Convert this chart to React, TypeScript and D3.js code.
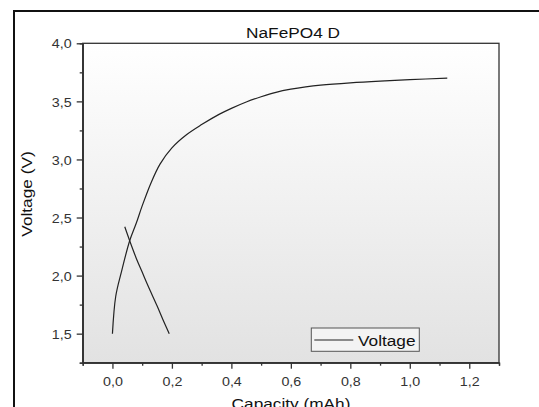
import * as d3 from 'd3';
import React, { useRef, useEffect } from 'react';

// charge branch (rising)
const chargeCapacity = [0, 0.011, 0.03, 0.058, 0.08, 0.1, 0.13, 0.16, 0.2, 0.25, 0.3, 0.36, 0.4, 0.45, 0.5, 0.55, 0.6, 0.65, 0.7, 0.8, 0.9, 1.0, 1.126];
const chargeVoltage = [1.5, 1.82, 2.03, 2.3, 2.45, 2.6, 2.8, 2.96, 3.1, 3.215, 3.3, 3.39, 3.44, 3.495, 3.54, 3.578, 3.605, 3.625, 3.64, 3.66, 3.675, 3.687, 3.7];

// discharge branch (falling)
const dischargeCapacity = [0.0415, 0.058, 0.08, 0.1, 0.12, 0.15, 0.17, 0.191];
const dischargeVoltage = [2.42, 2.3, 2.15, 2.03, 1.91, 1.74, 1.62, 1.5];

const xTicks = [0, 0.2, 0.4, 0.6, 0.8, 1.0, 1.2];
const xMinorTicks = [-0.1, 0.1, 0.3, 0.5, 0.7, 0.9, 1.1, 1.3];
const yTicks = [1.5, 2.0, 2.5, 3.0, 3.5, 4.0];
const yMinorTicks = [1.25, 1.75, 2.25, 2.75, 3.25, 3.75];

const title = 'NaFePO4 D';
const xLabel = 'Capacity (mAh)';
const yLabel = 'Voltage (V)';
const seriesName = 'Voltage';

function App() {
    const ref = useRef<SVGSVGElement>(null);
    const width = 539, height = 407;
    const plot = { left: 82.7, right: 499, top: 43.3, bottom: 362.7 };
    const font = '"Liberation Sans", Arial, sans-serif';
    const stretch = 1.12;

    useEffect(() => {
        draw();
    }, []);

    const draw = () => {
        const svg = d3.select(ref.current);
        svg.selectAll('*').remove();

        const fmt = (d: number) => d.toFixed(1).replace('.', ',');

        const xScale = d3.scaleLinear().domain([-0.1, 1.3]).range([plot.left, plot.right]);
        const yScale = d3.scaleLinear().domain([1.25, 4.0]).range([plot.bottom, plot.top]);

        // outer frame
        svg.append('rect')
            .attr('x', 14).attr('y', 11)
            .attr('width', 600).attr('height', 500)
            .attr('fill', 'none').attr('stroke', '#111').attr('stroke-width', 2);

        // plot background gradient
        const defs = svg.append('defs');
        const grad = defs.append('linearGradient')
            .attr('id', 'bg').attr('x1', 0).attr('y1', 0).attr('x2', 0).attr('y2', 1);
        grad.append('stop').attr('offset', '0%').attr('stop-color', '#ffffff');
        grad.append('stop').attr('offset', '100%').attr('stop-color', '#e2e2e2');

        svg.append('rect')
            .attr('x', plot.left).attr('y', plot.top)
            .attr('width', plot.right - plot.left).attr('height', plot.bottom - plot.top)
            .attr('fill', 'url(#bg)')
            .attr('stroke', '#333').attr('stroke-width', 1.3);

        // X axis
        const gx = svg.append('g').attr('transform', `translate(0,${plot.bottom})`);
        gx.call(d3.axisBottom(xScale).tickValues(xTicks).tickSize(6).tickSizeOuter(0).tickFormat(fmt as any));
        gx.append('g').call(d3.axisBottom(xScale).tickValues(xMinorTicks).tickSize(3).tickFormat(() => ''));
        gx.selectAll('.domain').attr('stroke', '#333').attr('stroke-width', 1.3);
        gx.selectAll('.tick line').attr('stroke', '#333').attr('stroke-width', 1.3);
        gx.selectAll('.tick text')
            .attr('y', 23).attr('dy', 0)
            .attr('transform', `scale(1.1,1)`)
            .style('font-family', font).style('font-size', '13px').attr('fill', '#333');

        // Y axis
        const gy = svg.append('g').attr('transform', `translate(${plot.left},0)`);
        gy.call(d3.axisLeft(yScale).tickValues(yTicks).tickSize(6).tickSizeOuter(0).tickFormat(fmt as any));
        gy.append('g').call(d3.axisLeft(yScale).tickValues(yMinorTicks).tickSize(3).tickFormat(() => ''));
        gy.selectAll('.domain').attr('stroke', '#333').attr('stroke-width', 1.3);
        gy.selectAll('.tick line').attr('stroke', '#333').attr('stroke-width', 1.3);
        gy.selectAll('.tick text')
            .attr('x', -10).attr('dy', '0.36em')
            .attr('transform', `scale(1.1,1)`)
            .style('font-family', font).style('font-size', '13px').attr('fill', '#333');

        // curves
        const line = d3.line<[number, number]>()
            .x(d => xScale(d[0]))
            .y(d => yScale(d[1]))
            .curve(d3.curveCatmullRom.alpha(0.5));

        const charge = chargeCapacity.map((c, i) => [c, chargeVoltage[i]] as [number, number]);
        const discharge = dischargeCapacity.map((c, i) => [c, dischargeVoltage[i]] as [number, number]);

        [charge, discharge].forEach(pts => {
            svg.append('path')
                .attr('d', line(pts))
                .attr('fill', 'none')
                .attr('stroke', '#222')
                .attr('stroke-width', 1.2);
        });

        // Title
        svg.append('text')
            .attr('transform', `translate(293,38.3) scale(${stretch},1)`)
            .attr('text-anchor', 'middle')
            .style('font-family', font).style('font-size', '15.4px')
            .attr('fill', '#111')
            .text(title);

        // X label (cut by the bottom edge, as in the original)
        svg.append('text')
            .attr('transform', `translate(291,409) scale(${stretch},1)`)
            .attr('text-anchor', 'middle')
            .style('font-family', font).style('font-size', '15.4px')
            .attr('fill', '#111')
            .text(xLabel);

        // Y label
        svg.append('text')
            .attr('transform', `translate(32.3,194) rotate(-90) scale(${stretch},1)`)
            .attr('text-anchor', 'middle')
            .style('font-family', font).style('font-size', '15.4px')
            .attr('fill', '#111')
            .text(yLabel);

        // legend
        svg.append('rect')
            .attr('x', 311.3).attr('y', 328)
            .attr('width', 108).attr('height', 23.3)
            .attr('fill', '#f3f3f3')
            .attr('stroke', '#555').attr('stroke-width', 1);
        svg.append('line')
            .attr('x1', 314.3).attr('x2', 353.3)
            .attr('y1', 340).attr('y2', 340)
            .attr('stroke', '#222').attr('stroke-width', 1.2);
        svg.append('text')
            .attr('transform', `translate(358,345.7) scale(${stretch},1)`)
            .style('font-family', font).style('font-size', '15.4px')
            .attr('fill', '#111')
            .text(seriesName);
    };

    return (
        <svg
            ref={ref}
            width={width}
            height={height}
            style={{ position: 'absolute', left: 0, top: 0, background: '#fff' }}
        ></svg>
    );
}

export default App;
